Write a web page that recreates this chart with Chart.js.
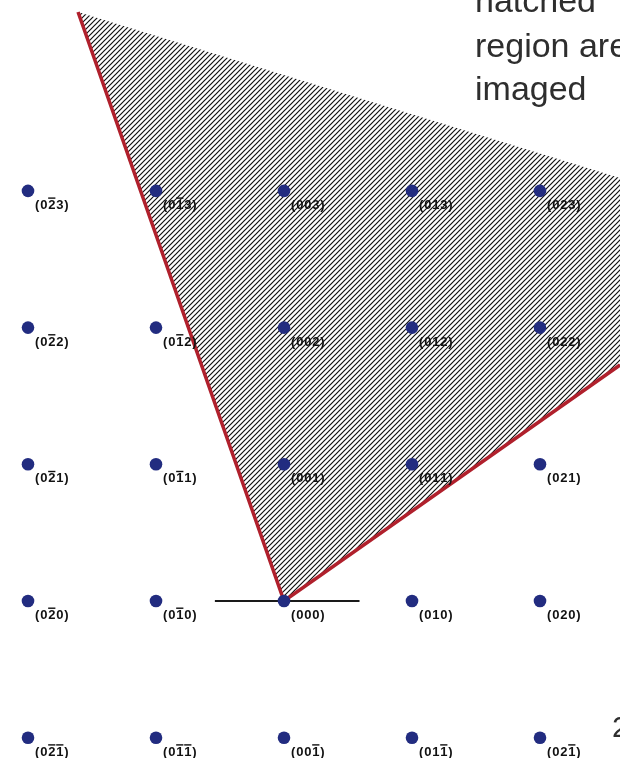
<!DOCTYPE html>
<html><head><meta charset="utf-8">
<script src="https://cdn.jsdelivr.net/npm/chart.js@4/dist/chart.umd.min.js"></script>
<style>html,body{margin:0;padding:0;background:#fff;overflow:hidden}canvas{display:block}</style>
</head><body>
<canvas id="c" width="620" height="758"></canvas>
<script>
// Reciprocal lattice indices (k across, l up); '-' means overbar on the next digit
const kValues = [-2, -1, 0, 1, 2];
const lValues = [3, 2, 1, 0, -1];
const pointLabels = [
  ['(0-23)', '(0-13)', '(003)', '(013)', '(023)'],
  ['(0-22)', '(0-12)', '(002)', '(012)', '(022)'],
  ['(0-21)', '(0-11)', '(001)', '(011)', '(021)'],
  ['(0-20)', '(0-10)', '(000)', '(010)', '(020)'],
  ['(0-2-1)', '(0-1-1)', '(00-1)', '(01-1)', '(02-1)']
];
// Boundary of the imaged (hatched) region, in lattice units
const hatchK = [0, -1.609, 2.625, 2.625, 0];
const hatchL = [0, 4.309, 3.094, 1.726, 0];
// Red limiting lines through the origin
const redK = [-1.609, 0, 2.625];
const redL = [4.309, 0, 1.726];
// Short black line through the origin
const baseK = [-0.54, 0.59];
const baseL = [0, 0];

const dotPts = [], dotTxt = [];
lValues.forEach((l, r) => kValues.forEach((k, c) => { dotPts.push({x: k, y: l}); dotTxt.push(pointLabels[r][c]); }));
const zip = (a, b) => a.map((v, i) => ({x: v, y: b[i]}));

// hatch pattern
const pc = document.createElement('canvas');
pc.width = 5; pc.height = 5;
const px = pc.getContext('2d');
px.fillStyle = '#fff'; px.fillRect(0, 0, 5, 5);
px.strokeStyle = '#111'; px.lineWidth = 1.2;
px.beginPath();
px.moveTo(-1, 6); px.lineTo(6, -1);
px.moveTo(-1, 1); px.lineTo(1, -1);
px.moveTo(4, 6); px.lineTo(6, 4);
px.stroke();
const ctx0 = document.getElementById('c').getContext('2d');
const hatch = ctx0.createPattern(pc, 'repeat');

function drawLabel(ctx, s, x, y) {
  let cx = x;
  for (let i = 0; i < s.length; i++) {
    let ch = s[i], bar = false;
    if (ch === '-') { bar = true; i++; ch = s[i]; }
    ctx.fillText(ch, cx, y);
    const w = ctx.measureText(ch).width;
    if (bar) { ctx.fillRect(cx, y - 11.5, w, 1.4); }
    cx += w + 0.8;
  }
}

const labelPlugin = {
  id: 'lbl',
  afterDatasetsDraw(chart) {
    const ctx = chart.ctx;
    ctx.save();
    const meta = chart.getDatasetMeta(0);
    ctx.fillStyle = '#111';
    ctx.font = 'bold 13px "Liberation Sans", Arial, sans-serif';
    ctx.textBaseline = 'alphabetic';
    meta.data.forEach((el, i) => drawLabel(ctx, dotTxt[i], el.x + 7, el.y + 18));
    ctx.fillStyle = '#2e2e2e';
    ctx.font = '34px "Liberation Sans", Arial, sans-serif';
    ctx.fillText('hatched', 475, 12);
    ctx.fillText('region are', 475, 57);
    ctx.fillText('imaged', 475, 100);
    ctx.font = '30px "Liberation Sans", Arial, sans-serif';
    ctx.fillText('2', 612, 737);
    ctx.restore();
  }
};

new Chart(document.getElementById('c'), {
  type: 'line',
  data: {
    datasets: [
      {data: dotPts, showLine: false, pointRadius: 6.3, pointHoverRadius: 6.3,
       pointBackgroundColor: '#222c80', pointBorderColor: '#222c80', pointBorderWidth: 0, order: 0},
      {data: zip(baseK, baseL), borderColor: '#1a1a1a', borderWidth: 2, pointRadius: 0, fill: false, tension: 0, order: 1},
      {data: zip(redK, redL), borderColor: '#b0202c', borderWidth: 3.5, pointRadius: 0, fill: false, tension: 0, order: 1},
      {data: zip(hatchK, hatchL), borderWidth: 0, borderColor: 'rgba(0,0,0,0)', backgroundColor: hatch,
       pointRadius: 0, fill: 'shape', tension: 0, order: 2}
    ]
  },
  options: {
    responsive: false, animation: false, events: [],
    layout: {padding: 0, autoPadding: false},
    plugins: {legend: {display: false}, tooltip: {enabled: false}, title: {display: false}},
    scales: {
      x: {type: 'linear', display: false, min: -2.21875, max: 2.625},
      y: {type: 'linear', display: false, min: -1.1485, max: 4.3965}
    }
  },
  plugins: [labelPlugin]
});
</script>
</body></html>
